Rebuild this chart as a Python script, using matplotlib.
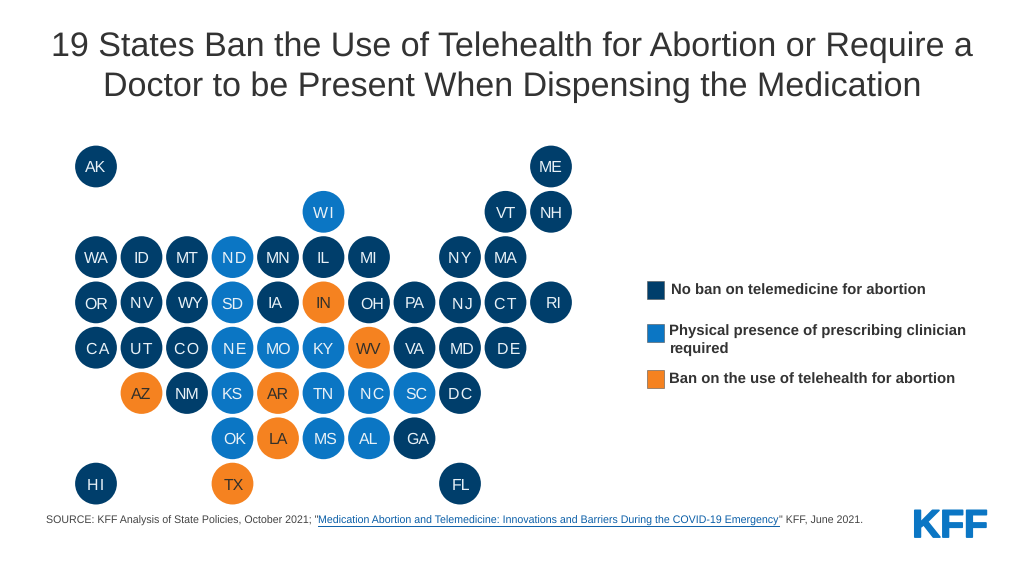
#!/usr/bin/env python
# coding: utf-8

import matplotlib
matplotlib.use("Agg")
import matplotlib.pyplot as plt
import matplotlib.patheffects as pe
from matplotlib.patches import Rectangle

plt.rcParams['font.family'] = ['Liberation Sans', 'DejaVu Sans']
plt.rcParams['text.hinting'] = 'no_hinting'

#=========== data ============================#
states = ["AK", "ME",
          "WI", "VT", "NH",
          "WA", "ID", "MT", "ND", "MN", "IL", "MI", "NY", "MA",
          "OR", "NV", "WY", "SD", "IA", "IN", "OH", "PA", "NJ", "CT", "RI",
          "CA", "UT", "CO", "NE", "MO", "KY", "WV", "VA", "MD", "DE",
          "AZ", "NM", "KS", "AR", "TN", "NC", "SC", "DC",
          "OK", "LA", "MS", "AL", "GA",
          "HI", "TX", "FL"]
cols = [0, 10,
        5, 9, 10,
        0, 1, 2, 3, 4, 5, 6, 8, 9,
        0, 1, 2, 3, 4, 5, 6, 7, 8, 9, 10,
        0, 1, 2, 3, 4, 5, 6, 7, 8, 9,
        1, 2, 3, 4, 5, 6, 7, 8,
        3, 4, 5, 6, 7,
        0, 3, 8]
rows = [0, 0,
        1, 1, 1,
        2, 2, 2, 2, 2, 2, 2, 2, 2,
        3, 3, 3, 3, 3, 3, 3, 3, 3, 3, 3,
        4, 4, 4, 4, 4, 4, 4, 4, 4, 4,
        5, 5, 5, 5, 5, 5, 5, 5,
        6, 6, 6, 6, 6,
        7, 7, 7]
# 0 no ban, 1 physical presence, 2 telehealth ban
status = [0, 0,
          1, 0, 0,
          0, 0, 0, 1, 0, 0, 0, 0, 0,
          0, 0, 0, 1, 0, 2, 0, 0, 0, 0, 0,
          0, 0, 0, 1, 1, 1, 2, 0, 0, 0,
          2, 0, 1, 2, 1, 1, 1, 0,
          1, 2, 1, 1, 0,
          0, 2, 0]
status_colors = ["#003e6b", "#0b76c4", "#f58220"]
label_colors = ["#e8f1f7", "#e8f1f7", "#33302a"]
legend_labels = ["No ban on telemedicine for abortion",
                 "Physical presence of prescribing clinician\nrequired",
                 "Ban on the use of telehealth for abortion"]
title = "19 States Ban the Use of Telehealth for Abortion or Require a\nDoctor to be Present When Dispensing the Medication"
source_a = 'SOURCE: KFF Analysis of State Policies, October 2021; "'
source_b = "Medication Abortion and Telemedicine: Innovations and Barriers During the COVID-19 Emergency"
source_c = '" KFF, June 2021.'
#==================================================================#

W, H = 1024, 576
fig = plt.figure(figsize=(W / 100, H / 100), dpi=100)

# tile grid axes: one unit is one tile step
step_x, step_y = 45.5, 45.3
x0, y0 = 96.0, 166.5
ax = fig.add_axes([0, 0, 1, 1])
ax.set_xlim(-x0 / step_x, (W - x0) / step_x)
ax.set_ylim((H - y0) / step_y, -y0 / step_y)
ax.axis("off")

ax.scatter(cols, rows, s=905, c=[status_colors[s] for s in status], linewidths=0, zorder=2)

# the labels are not quite centred in the original tiles (px)
nudge = {"WY": 4, "RI": 3, "ND": 2, "NE": 2, "DE": 3, "CA": 2, "OK": 2, "MS": 2, "GA": 3,
         "NC": 3, "SC": 2, "MD": 2, "OH": 3, "NJ": 2, "IA": -3, "TX": 1, "FL": 1, "VT": 1}
spaced = ["ND", "NV", "NC", "NY", "WI", "HI", "CT", "CO", "CA", "UT", "DC", "DE", "NJ", "NE"]
for st, c, r, s in zip(states, cols, rows, status):
    lab = "\u200a".join(st) if st in spaced else st
    ax.annotate(lab, (c, r), xytext=(nudge.get(st, 0) * 0.72, -4.3), textcoords="offset points",
                ha="center", va="baseline", fontsize=11.4,
                color=label_colors[s], zorder=3)

# overlay in pixel coords for the text and legend
ov = fig.add_axes([0, 0, 1, 1])
ov.set_xlim(0, W)
ov.set_ylim(H, 0)
ov.axis("off")
ov.patch.set_alpha(0)

ov.text(512, 67.5, title, ha="center", va="center", fontsize=24.5, color="#333333",
        linespacing=1.34)

legend_x = [671, 669, 669]
legend_y = [290.5, 340.5, 379.5]
box_y = [289.5, 332.5, 378.5]
for i in range(3):
    ov.add_patch(Rectangle((647, box_y[i] - 9), 17, 18, facecolor=status_colors[i],
                           edgecolor="#555555", linewidth=0.4))
    ov.text(legend_x[i], legend_y[i], legend_labels[i], ha="left", va="center",
            fontsize=10.7, fontweight="bold", color="#333333", linespacing=1.33)

# source line, link part gets an underline
renderer = fig.canvas.get_renderer()
x = 46
for part, color in [(source_a, "#444444"), (source_b, "#0b5fa8"), (source_c, "#444444")]:
    t = ov.text(x, 521, part, ha="left", va="center", fontsize=7.66, color=color)
    w = t.get_window_extent(renderer).width
    if part == source_b:
        ov.plot([x, x + w], [526, 526], color=color, linewidth=0.7)
    x += w

ov.text(950, 527, "KFF", ha="center", va="center", fontsize=28, fontweight="bold",
        color="#0b76c4", path_effects=[pe.withStroke(linewidth=1.2, foreground="#0b76c4")])

fig.savefig("out.png", dpi=100)
plt.close(fig)
